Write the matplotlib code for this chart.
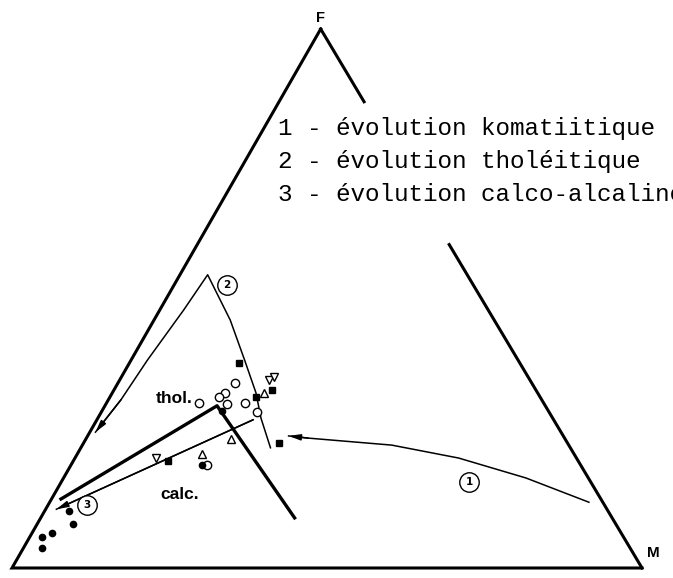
import numpy as np
import matplotlib.pyplot as plt

# AFM diagram: compositions given as F and M percentages (A = 100 - F - M)

# trends
thol_F = [22.3, 27.8, 32.5, 38.6, 46.0, 54.4, 47.9, 38.6, 31.2, 25.2]
thol_M = [30.1, 25.9, 22.8, 18.0, 12.1, 4.4, 3.8, 2.6, 2.0, 0.9]
koma_F = [12.2, 16.7, 20.4, 22.8, 24.1, 24.5]
koma_M = [85.6, 73.4, 60.9, 49.1, 35.2, 31.9]
calc_F = [27.5, 10.9]
calc_M = [24.8, 1.7]

# tholeiitic / calc-alkaline divide
div_F = [12.8, 30.1, 9.3]
div_M = [1.5, 17.8, 40.3]

# samples
circ_F = [34.4, 32.4, 31.7, 30.4, 30.6, 30.7, 29.0, 19.1]
circ_M = [18.5, 17.9, 17.3, 19.2, 14.7, 21.9, 24.6, 21.6]
sq_F = [38.0, 31.8, 33.0, 23.2, 19.8]
sq_M = [17.4, 23.2, 25.1, 31.0, 15.1]
tri_F = [23.9, 21.2, 32.5]
tri_M = [23.0, 19.7, 24.1]
itri_F = [20.4, 34.9, 35.4]
itri_M = [12.9, 23.7, 24.2]
dot_F = [10.6, 8.1, 6.5, 5.7, 3.8, 19.1, 29.1]
dot_M = [3.8, 5.7, 3.1, 2.0, 2.9, 20.8, 19.1]

# numbered trend tags
tag_num = ["1", "2", "3"]
tag_F = [16.0, 52.5, 11.7]
tag_M = [64.7, 8.4, 6.1]

# F-M side is interrupted behind the legend text between these F values
gap_F = (60.0, 86.5)

legend_lines = [
    "1 - évolution komatiitique",
    "2 - évolution tholéitique",
    "3 - évolution calco-alcaline",
]

APEX_SHIFT = 0.49  # printed triangle leans slightly to the left


def tern(F, M):
    F = np.asarray(F, dtype=float) / 100
    M = np.asarray(M, dtype=float) / 100
    return M + F * APEX_SHIFT, F * np.sqrt(3) / 2


fig = plt.figure(figsize=(6.73, 5.78), dpi=100)
ax = fig.add_axes([0, 0, 1, 1])
ax.set_xlim(-0.01905, 1.04921)
ax.set_ylim(-0.01607, 0.91262)
ax.axis("off")

lw_frame = 2.2
# A-M base and A-F side
x, y = tern([100, 0, 0], [0, 0, 100])
ax.plot(x, y, color="k", lw=lw_frame, solid_joinstyle="miter")
# F-M side in two pieces
x, y = tern([100, gap_F[1]], [0, 100 - gap_F[1]])
ax.plot(x, y, color="k", lw=lw_frame)
x, y = tern([gap_F[0], 0], [100 - gap_F[0], 100])
ax.plot(x, y, color="k", lw=lw_frame)

# divide
x, y = tern(div_F, div_M)
ax.plot(x, y, color="k", lw=2.4, solid_joinstyle="round", zorder=2)

# trend lines with arrowheads at the end
for F, M in [(thol_F, thol_M), (koma_F, koma_M), (calc_F, calc_M)]:
    x, y = tern(F, M)
    ax.plot(x, y, color="k", lw=1.1, zorder=2)
    ax.annotate("", xy=(x[-1], y[-1]), xytext=(x[-2], y[-2]),
                arrowprops=dict(arrowstyle="-|>,head_length=0.7,head_width=0.18",
                                color="k", lw=1.1, shrinkA=0, shrinkB=0),
                zorder=3)

# samples
x, y = tern(circ_F, circ_M)
ax.plot(x, y, "o", ms=6, mfc="white", mec="k", mew=1.0, ls="none", zorder=4)
x, y = tern(sq_F, sq_M)
ax.plot(x, y, "s", ms=5, color="k", ls="none", zorder=4)
x, y = tern(tri_F, tri_M)
ax.plot(x, y, "^", ms=6, mfc="white", mec="k", mew=1.0, ls="none", zorder=4)
x, y = tern(itri_F, itri_M)
ax.plot(x, y, "v", ms=6, mfc="white", mec="k", mew=1.0, ls="none", zorder=4)
x, y = tern(dot_F, dot_M)
ax.plot(x, y, "o", ms=4.5, color="k", ls="none", zorder=4)

# circled trend numbers
x, y = tern(tag_F, tag_M)
ax.plot(x, y, "o", ms=14, mfc="white", mec="k", mew=1.0, ls="none", zorder=5)
for xi, yi, t in zip(x, y, tag_num):
    ax.text(xi, yi, t, ha="center", va="center", fontsize=7.5,
            fontweight="bold", zorder=6)

# vertex and field labels
bold = dict(family=["Liberation Sans", "DejaVu Sans"], fontweight="heavy")
ax.text(0.4755, 0.969, "F", transform=ax.transAxes, ha="center", va="center",
        fontsize=10.5, **bold)
ax.text(0.971, 0.0433, "M", transform=ax.transAxes, ha="center", va="center",
        fontsize=11, **bold)
ax.text(0.2585, 0.3114, "thol.", transform=ax.transAxes, ha="center",
        va="center", fontsize=12.5, **bold)
ax.text(0.2675, 0.1453, "calc.", transform=ax.transAxes, ha="center",
        va="center", fontsize=12.5, **bold)

# legend typed next to the F-M side
for i, line in enumerate(legend_lines):
    ax.text(0.413, 1 - (135 + 33 * i) / 578, line, transform=ax.transAxes,
            ha="left", va="baseline", fontsize=17.5,
            family=["Liberation Mono", "DejaVu Sans Mono"])

fig.savefig("out.png", dpi=100)
